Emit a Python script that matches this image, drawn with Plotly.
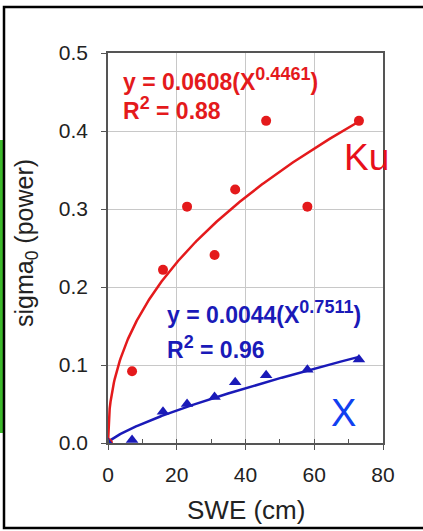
import numpy as np
import plotly.graph_objects as go

# ---- data ----
swe_ku = [0, 7, 16, 23, 31, 37, 46, 58, 73]
sigma_ku = [0.0, 0.092, 0.222, 0.303, 0.241, 0.325, 0.413, 0.303, 0.413]
swe_x = [0, 7, 16, 23, 31, 37, 46, 58, 73]
sigma_x = [0.0, 0.004, 0.040, 0.050, 0.059, 0.078, 0.087, 0.094, 0.107]
ku_coef, ku_exp = 0.0608, 0.4461
x_coef, x_exp = 0.0044, 0.7511
x_ticks = [0, 20, 40, 60, 80]
y_ticks = [0.0, 0.1, 0.2, 0.3, 0.4, 0.5]

RED = "#e41a1c"
BLUE = "#1a1ab8"

fit_x = np.linspace(0, 73, 300)
fig = go.Figure()
fig.add_trace(go.Scatter(x=fit_x, y=ku_coef * fit_x ** ku_exp, mode="lines",
                         line=dict(color=RED, width=2.5), showlegend=False))
fig.add_trace(go.Scatter(x=fit_x, y=x_coef * fit_x ** x_exp, mode="lines",
                         line=dict(color=BLUE, width=2.5), showlegend=False))
fig.add_trace(go.Scatter(x=swe_ku, y=sigma_ku, mode="markers",
                         marker=dict(color=RED, size=10, symbol="circle"), showlegend=False))
fig.add_trace(go.Scatter(x=swe_x, y=sigma_x, mode="markers",
                         marker=dict(color=BLUE, size=11, symbol="triangle-up"), showlegend=False))

L, R, T, B = 108, 40, 53, 88
W, H = 423, 531
pw, ph = W - L - R, H - T - B

def px(xp):
    return (xp - L) / pw

def py(yp):
    return (H - B - yp) / ph

font = "Liberation Sans, Arial, sans-serif"
eqfont = 23
SUP = '<sup><span style="font-size:18px">{}</span></sup>'
fig.update_layout(
    width=W, height=H,
    margin=dict(l=L, r=R, t=T, b=B),
    paper_bgcolor="white", plot_bgcolor="white",
    font=dict(family=font, color="#222"),
    xaxis=dict(range=[0, 80], tickvals=x_ticks, ticks="outside", ticklen=5,
               tickcolor="#555", showline=True, linecolor="#555", linewidth=1.5,
               mirror=True, showgrid=True, gridcolor="#c8c8c8", gridwidth=1.2,
               zeroline=False, ticklabelstandoff=7,
               tickfont=dict(size=21, family=font, color="#222"),
               minor=dict(dtick=10, ticks="inside", ticklen=4, tickcolor="#555", showgrid=False)),
    yaxis=dict(range=[0, 0.5], tickvals=y_ticks, tickformat=".1f", ticks="outside",
               ticklen=5, tickcolor="#555", showline=True, linecolor="#555", linewidth=1.5,
               mirror=True, showgrid=True, gridcolor="#c8c8c8", gridwidth=1.2,
               zeroline=False, ticklabelstandoff=9,
               tickfont=dict(size=21, family=font, color="#222")),
    annotations=[
        dict(xref="paper", yref="paper", x=px(121), y=py(80), xanchor="left", yanchor="middle",
             text="<b>y = 0.0608(X" + SUP.format("0.4461") + ")</b>", showarrow=False,
             font=dict(size=eqfont, color=RED, family=font)),
        dict(xref="paper", yref="paper", x=px(121), y=py(108), xanchor="left", yanchor="middle",
             text="<b>R" + SUP.format("2") + " = 0.88</b>", showarrow=False,
             font=dict(size=eqfont, color=RED, family=font)),
        dict(xref="paper", yref="paper", x=px(165), y=py(312), xanchor="left", yanchor="middle",
             text="<b>y = 0.0044(X" + SUP.format("0.7511") + ")</b>", showarrow=False,
             font=dict(size=eqfont, color=BLUE, family=font)),
        dict(xref="paper", yref="paper", x=px(165), y=py(347), xanchor="left", yanchor="middle",
             text="<b>R" + SUP.format("2") + " = 0.96</b>", showarrow=False,
             font=dict(size=eqfont, color=BLUE, family=font)),
        dict(xref="paper", yref="paper", x=px(366), y=py(157), xanchor="center", yanchor="middle",
             text="Ku", showarrow=False, font=dict(size=37, color="#e8101a", family=font)),
        dict(xref="paper", yref="paper", x=px(343), y=py(413), xanchor="center", yanchor="middle",
             text="X", showarrow=False, font=dict(size=38, color="#1040f0", family=font)),
        dict(xref="paper", yref="paper", x=px(246), y=py(510), xanchor="center", yanchor="middle",
             text="SWE (cm)", showarrow=False, font=dict(size=26, color="#222", family=font)),
        dict(xref="paper", yref="paper", x=px(26), y=py(243), xanchor="center", yanchor="middle",
             text="sigma<sub>0</sub> (power)", textangle=-90, showarrow=False,
             font=dict(size=25, color="#222", family=font)),
    ],
    shapes=[
        dict(type="rect", xref="paper", yref="paper", x0=px(0), x1=px(3), y0=py(433), y1=py(140),
             fillcolor="#3cb82a", line=dict(width=0), layer="below"),
        dict(type="rect", xref="paper", yref="paper", x0=px(4), x1=px(428), y0=py(528), y1=py(7),
             line=dict(color="black", width=2.5), fillcolor="rgba(0,0,0,0)"),
    ],
)

fig.write_html("out.html", config={"displayModeBar": False},
               post_script="document.body.style.margin='0px';document.body.style.overflow='hidden';")
